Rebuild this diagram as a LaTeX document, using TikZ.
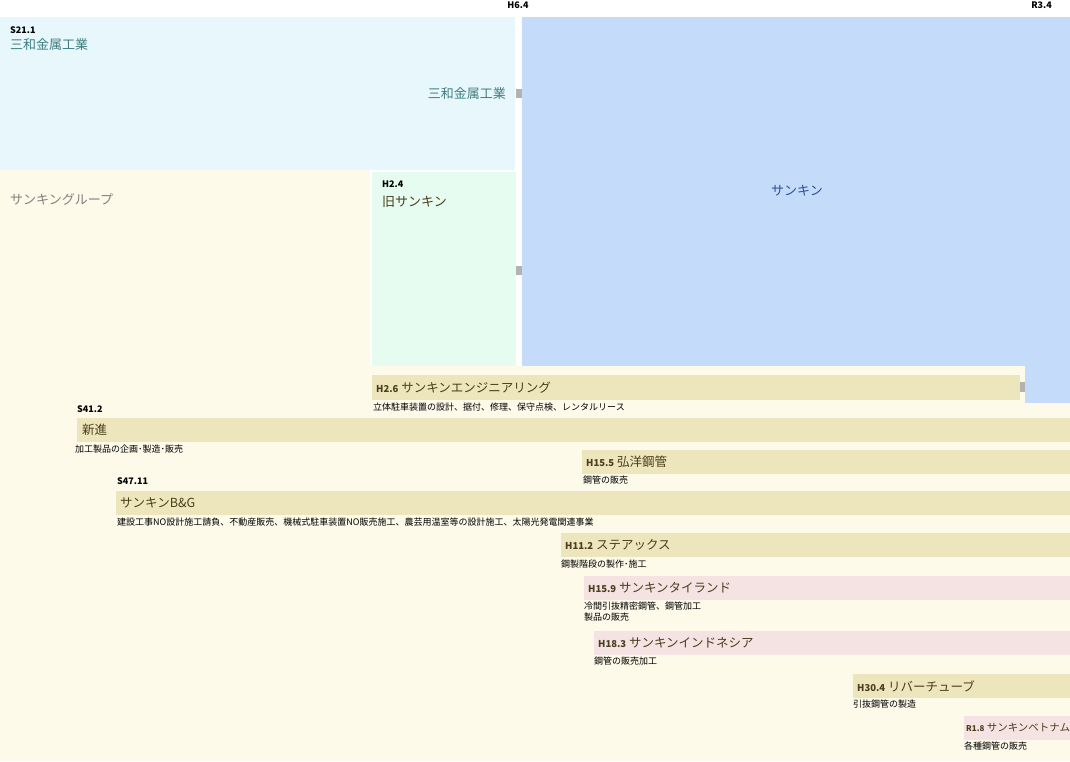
\documentclass[tikz,border=0pt]{standalone}
\usepackage{fontspec}
\setmainfont{Noto Sans CJK JP}
\begin{document}
\begin{tikzpicture}[x=1pt,y=-1pt,
  bar/.style={fill=barc,draw=none},
  pbar/.style={fill=pinkc,draw=none},
  nm/.style={anchor=west,inner sep=0,font=\fontsize{12.5}{14}\selectfont,text=namec},
  desc/.style={anchor=north west,inner sep=0,font=\fontsize{9}{11}\selectfont,text=black,align=left},
  lab/.style={anchor=north west,inner sep=0,font=\fontsize{9}{11}\selectfont\bfseries,text=black},
  big/.style={inner sep=0,font=\fontsize{13}{15}\selectfont},
  conn/.style={fill=gray!60,draw=none}]
\definecolor{barc}{HTML}{EDE5BC}
\definecolor{pinkc}{HTML}{F5E3E3}
\definecolor{namec}{HTML}{4A3E1C}
\definecolor{creamc}{HTML}{FDFAEA}
\definecolor{skyc}{HTML}{E8F7FC}
\definecolor{bluec}{HTML}{C4DCFA}
\definecolor{greenc}{HTML}{E6FCF0}
\definecolor{tealc}{HTML}{3E7E80}
\definecolor{sbluec}{HTML}{2A4F9E}
\newcommand{\dte}[1]{{\fontsize{9.5}{11}\selectfont\bfseries #1}}
\useasboundingbox (0,0) rectangle (1070,761);
\fill[white] (0,0) rectangle (1070,761);
\fill[creamc] (0,170) rectangle (370,761);
\fill[creamc] (0,366) rectangle (1070,761);
\fill[skyc] (0,17) rectangle (515,170);
\fill[bluec] (522,17) rectangle (1070,366);
\fill[bluec] (1025,366) rectangle (1070,403);
\fill[greenc] (372,172) rectangle (516,366);
\fill[conn] (516,89) rectangle (522,98);
\fill[conn] (516,266) rectangle (522,275);
\fill[conn] (1020,382) rectangle (1025,392);
\node[lab,anchor=north] (t1) at (518,2) {H6.4};
\node[lab,anchor=north east] (t2) at (1052,2) {R3.4};
\node[lab] (s21) at (10,26) {S21.1};
\node[big,anchor=north west,text=tealc] (sw1) at (10,38) {三和金属工業};
\node[big,anchor=east,text=tealc] (sw2) at (506,94) {三和金属工業};
\node[big,anchor=center,text=sbluec] (sk) at (797,191) {サンキン};
\node[big,anchor=west,text=gray] (grp) at (10,199) {サンキングループ};
\node[lab] (h24) at (382,181) {H2.4};
\node[big,anchor=north west,text=namec] (old) at (382,196) {旧サンキン};
\fill[bar] (372,375) rectangle (1020,400);
\node[nm] (b1) at (376,387.5) {\dte{H2.6} サンキンエンジニアリング};
\node[desc] (d1) at (373,403) {立体駐車装置の設計、据付、修理、保守点検、レンタルリース};
\node[lab] (s41) at (77,405) {S41.2};
\fill[bar] (77,418) rectangle (1070,442);
\node[nm] (b2) at (82,430) {新進};
\node[desc] (d2) at (75,445) {加工製品の企画･製造･販売};
\fill[bar] (582,450) rectangle (1070,474);
\node[nm] (b3) at (586,462) {\dte{H15.5} 弘洋鋼管};
\node[desc] (d3) at (583,476) {鋼管の販売};
\node[lab] (s47) at (117,477) {S47.11};
\fill[bar] (116,491) rectangle (1070,515);
\node[nm] (b4) at (120,503) {サンキンB\&G};
\node[desc] (d4) at (117,518) {建設工事NO設計施工請負、不動産販売、機械式駐車装置NO販売施工、農芸用温室等の設計施工、太陽光発電関連事業};
\fill[bar] (561,533) rectangle (1070,557);
\node[nm] (b5) at (565,545) {\dte{H11.2} ステアックス};
\node[desc] (d5) at (561,560) {鋼製階段の製作･施工};
\fill[pbar] (584,576) rectangle (1070,600);
\node[nm] (b6) at (588,588) {\dte{H15.9} サンキンタイランド};
\node[desc] (d6) at (584,602) {冷間引抜精密鋼管、鋼管加工\\製品の販売};
\fill[pbar] (594,631) rectangle (1070,655);
\node[nm] (b7) at (598,643) {\dte{H18.3} サンキンインドネシア};
\node[desc] (d7) at (594,657) {鋼管の販売加工};
\fill[bar] (853,674) rectangle (1070,698);
\node[nm] (b8) at (857,686) {\dte{H30.4} リバーチューブ};
\node[desc] (d8) at (853,700) {引抜鋼管の製造};
\fill[pbar] (964,716) rectangle (1070,740);
\node[nm,font=\fontsize{10.5}{12}\selectfont] (b9) at (966,728) {{\fontsize{8}{10}\selectfont\bfseries R1.8} サンキンベトナム};
\node[desc] (d9) at (964,742) {各種鋼管の販売};
\end{tikzpicture}
\end{document}
